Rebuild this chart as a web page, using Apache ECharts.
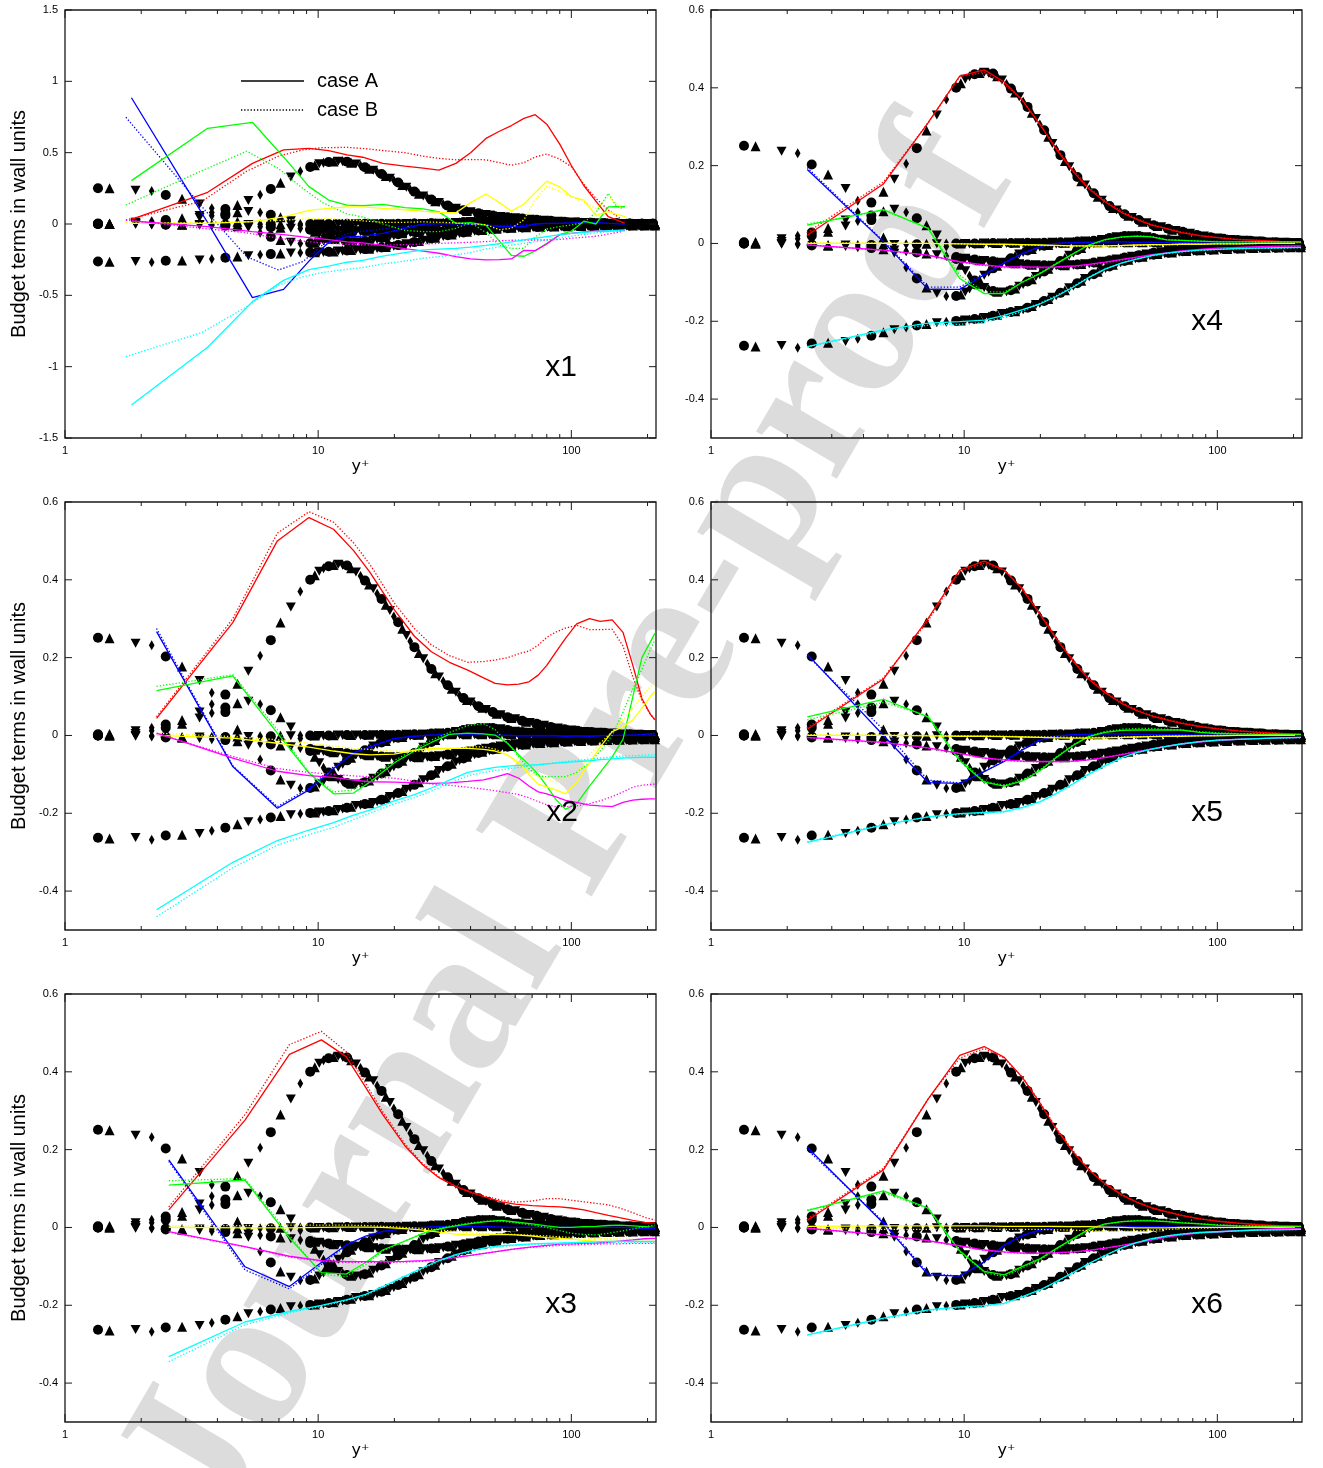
<!DOCTYPE html>
<html><head><meta charset="utf-8">
<script src="https://cdn.jsdelivr.net/npm/echarts@6/dist/echarts.min.js"></script>
<style>html,body{margin:0;padding:0;background:#fff}#c{width:1323px;height:1468px}</style>
</head><body><div id="c"></div><script>
// ---------------- DNS reference data (black symbols, same in every panel) ----------------
const dnsY = [1.35, 1.5, 1.9, 2.2, 2.5, 2.9, 3.4, 3.8, 4.3, 4.8, 5.3, 5.9, 6.5, 7.1, 7.8, 8.5,
  9.3, 9.7, 10.1, 10.5, 11, 11.5, 12, 12.5, 13, 13.5, 14.1, 14.7, 15.3, 15.9, 16.5, 17.1, 17.8, 18.5, 19.2, 19.9,
  20.7, 21.5, 22.3, 23.1, 24, 25, 26, 27, 28, 29, 30, 31.2, 32.5, 33.7, 35, 36.2, 37.5, 38.7, 40, 41.5,
  43, 44.5, 46, 47.5, 49, 50.7, 52.5, 54.2, 56, 58, 60, 62, 64, 66.2, 68.5, 70.7, 73, 75.5, 78, 80.5,
  83, 85.7, 88.5, 91.2, 94, 97, 100, 103, 106, 109.5, 113, 116.5, 120, 123.5, 127, 131, 135, 139, 143, 147,
  151, 155.5, 160, 165, 170, 175, 180, 185, 190, 195, 200, 205, 210, 214];
const dnsProd = [0.003, 0.004, 0.012, 0.02, 0.028, 0.04, 0.06, 0.08, 0.105, 0.133, 0.165, 0.205, 0.245, 0.29, 0.33, 0.37,
  0.4, 0.412, 0.422, 0.43, 0.435, 0.438, 0.44, 0.439, 0.437, 0.43, 0.42, 0.41, 0.398, 0.388, 0.377, 0.364, 0.351, 0.336, 0.321, 0.306,
  0.291, 0.274, 0.257, 0.242, 0.227, 0.212, 0.197, 0.184, 0.171, 0.16, 0.15, 0.139, 0.129, 0.12, 0.111, 0.103, 0.096, 0.091, 0.086, 0.08,
  0.075, 0.071, 0.067, 0.063, 0.06, 0.056, 0.053, 0.05, 0.047, 0.045, 0.043, 0.04, 0.038, 0.035, 0.033, 0.031, 0.03, 0.028, 0.026, 0.024,
  0.022, 0.02, 0.019, 0.017, 0.016, 0.015, 0.014, 0.013, 0.012, 0.011, 0.01, 0.0095, 0.009, 0.0085, 0.008, 0.0075, 0.007, 0.0065, 0.006, 0.0055,
  0.005, 0.0045, 0.004, 0.0035, 0.003, 0.003, 0.003, 0.0025, 0.002, 0.002, 0.002, 0.0015, 0.001, 0.001];
const dnsVisc = [0.251, 0.25, 0.237, 0.232, 0.203, 0.177, 0.141, 0.11, 0.06, 0.015, -0.025, -0.062, -0.09, -0.113, -0.128, -0.136,
  -0.135, -0.131, -0.125, -0.116, -0.105, -0.094, -0.082, -0.073, -0.064, -0.057, -0.05, -0.044, -0.038, -0.032, -0.027, -0.022, -0.018, -0.014, -0.011, -0.008,
  -0.006, -0.004, -0.002, 0.0, 0.001, 0.002, 0.003, 0.004, 0.005, 0.0055, 0.006, 0.0065, 0.007, 0.007, 0.007, 0.007, 0.007, 0.007, 0.007, 0.007,
  0.007, 0.0065, 0.006, 0.006, 0.006, 0.0055, 0.005, 0.005, 0.005, 0.0045, 0.004, 0.004, 0.004, 0.004, 0.004, 0.0035, 0.003, 0.003, 0.003, 0.003,
  0.003, 0.0025, 0.002, 0.002, 0.002, 0.002, 0.002, 0.002, 0.002, 0.0015, 0.001, 0.001, 0.001, 0.001, 0.001, 0.001, 0.001, 0.001, 0.001, 0.001,
  0.001, 0.001, 0.001, 0.0005, 0, 0, 0, 0, 0, 0, 0, 0, 0, 0];
const dnsTurb = [0.0, 0.001, 0.005, 0.012, 0.02, 0.03, 0.045, 0.058, 0.072, 0.083, 0.088, 0.08, 0.065, 0.047, 0.022, -0.008,
  -0.04, -0.055, -0.07, -0.083, -0.095, -0.105, -0.113, -0.118, -0.122, -0.124, -0.125, -0.123, -0.12, -0.116, -0.11, -0.104, -0.098, -0.092, -0.085, -0.079,
  -0.072, -0.065, -0.058, -0.052, -0.045, -0.037, -0.03, -0.023, -0.017, -0.012, -0.007, -0.002, 0.003, 0.007, 0.01, 0.012, 0.014, 0.016, 0.017, 0.018,
  0.019, 0.02, 0.02, 0.02, 0.019, 0.018, 0.017, 0.016, 0.014, 0.012, 0.011, 0.01, 0.009, 0.0085, 0.008, 0.0075, 0.007, 0.0065, 0.006, 0.006,
  0.006, 0.0055, 0.005, 0.005, 0.005, 0.0045, 0.004, 0.004, 0.004, 0.004, 0.004, 0.0035, 0.003, 0.003, 0.003, 0.003, 0.003, 0.003, 0.003, 0.003,
  0.003, 0.0025, 0.002, 0.002, 0.002, 0.002, 0.002, 0.002, 0.002, 0.0015, 0.001, 0.001, 0.001, 0.001];
const dnsDiss = [-0.263, -0.265, -0.262, -0.268, -0.257, -0.255, -0.252, -0.245, -0.237, -0.228, -0.222, -0.216, -0.211, -0.207, -0.204, -0.201,
  -0.199, -0.198, -0.197, -0.196, -0.194, -0.192, -0.19, -0.188, -0.186, -0.183, -0.18, -0.178, -0.176, -0.174, -0.172, -0.169, -0.165, -0.161, -0.157, -0.153,
  -0.148, -0.143, -0.138, -0.133, -0.127, -0.12, -0.114, -0.108, -0.102, -0.096, -0.09, -0.084, -0.079, -0.073, -0.068, -0.063, -0.059, -0.055, -0.052, -0.048,
  -0.045, -0.042, -0.04, -0.038, -0.036, -0.034, -0.032, -0.03, -0.029, -0.027, -0.026, -0.025, -0.024, -0.023, -0.022, -0.021, -0.02, -0.0195, -0.019, -0.0185,
  -0.018, -0.0175, -0.017, -0.0165, -0.016, -0.0155, -0.015, -0.0145, -0.014, -0.014, -0.014, -0.0135, -0.013, -0.013, -0.013, -0.0125, -0.012, -0.012, -0.012, -0.0115,
  -0.011, -0.011, -0.011, -0.011, -0.011, -0.0105, -0.01, -0.01, -0.01, -0.01, -0.01, -0.01, -0.01, -0.01];
const dnsPres = [0.0, 0.0, -0.002, -0.003, -0.005, -0.006, -0.008, -0.01, -0.012, -0.015, -0.017, -0.02, -0.023, -0.026, -0.029, -0.032,
  -0.035, -0.037, -0.038, -0.04, -0.041, -0.043, -0.044, -0.045, -0.046, -0.047, -0.048, -0.049, -0.05, -0.051, -0.052, -0.053, -0.054, -0.055, -0.055, -0.056,
  -0.056, -0.056, -0.056, -0.056, -0.056, -0.056, -0.055, -0.055, -0.054, -0.053, -0.052, -0.051, -0.049, -0.048, -0.046, -0.045, -0.043, -0.042, -0.04, -0.038,
  -0.036, -0.035, -0.033, -0.032, -0.03, -0.028, -0.027, -0.025, -0.024, -0.022, -0.021, -0.02, -0.019, -0.018, -0.017, -0.016, -0.015, -0.014, -0.013, -0.0125,
  -0.012, -0.0115, -0.011, -0.0105, -0.01, -0.0095, -0.009, -0.0085, -0.008, -0.008, -0.008, -0.0075, -0.007, -0.007, -0.007, -0.0065, -0.006, -0.006, -0.006, -0.006,
  -0.006, -0.0055, -0.005, -0.005, -0.005, -0.005, -0.005, -0.0045, -0.004, -0.004, -0.004, -0.004, -0.004, -0.004];
const dnsConv = [0.0, 0.0, 0.0, -0.001, -0.003, -0.004, -0.004, -0.004, -0.004, -0.003, -0.003, -0.002, -0.002, -0.001, -0.001, 0.0,
  0.0, 0.0, 0.0, 0.0, 0.0, 0.0005, 0.001, 0.001, 0.001, 0.001, 0.001, 0.001, 0.001, 0.0015, 0.002, 0.002, 0.002, 0.002, 0.002, 0.002,
  0.002, 0.0025, 0.003, 0.003, 0.003, 0.003, 0.003, 0.003, 0.003, 0.003, 0.003, 0.003, 0.003, 0.003, 0.003, 0.003, 0.003, 0.003, 0.003, 0.003,
  0.003, 0.003, 0.003, 0.003, 0.003, 0.003, 0.003, 0.003, 0.003, 0.003, 0.003, 0.0025, 0.002, 0.002, 0.002, 0.002, 0.002, 0.002, 0.002, 0.002,
  0.002, 0.002, 0.002, 0.002, 0.002, 0.002, 0.002, 0.002, 0.002, 0.002, 0.002, 0.002, 0.002, 0.0015, 0.001, 0.001, 0.001, 0.001, 0.001, 0.001,
  0.001, 0.001, 0.001, 0.001, 0.001, 0.001, 0.001, 0.001, 0.001, 0.001, 0.001, 0.001, 0.001, 0.001];

// ---------------- LES grids (y+) ----------------
const g1A = [1.83, 3.66, 5.5, 7.3, 9.2, 11, 13, 15, 18, 22, 26, 30, 35, 40, 46, 52, 58, 65, 72, 80, 90, 100, 112, 125, 140, 150, 163];
const g1B = [1.74, 3.48, 5.22, 6.96, 8.7, 10.4, 13, 15, 18, 22, 26, 30, 35, 40, 46, 52, 58, 65, 72, 80, 90, 100, 112, 125, 140, 150, 158];
const g2 = [2.3, 4.6, 6.9, 9.2, 11.5, 13.8, 16, 20, 24, 28, 33, 39, 45, 50, 56, 62, 68, 74, 80, 87, 95, 105, 118, 130, 145, 160, 175, 190, 205, 214];
const g3 = [2.57, 5.14, 7.7, 10.3, 12.9, 15.4, 18, 22, 26, 30, 35, 40, 46, 53, 60, 70, 80, 90, 100, 112, 125, 140, 155, 175, 195, 214];
const g4 = [2.4, 4.8, 7.2, 9.6, 12, 14.4, 17, 20, 23, 27, 31, 36, 42, 48, 55, 63, 72, 85, 100, 120, 145, 175, 214];

// ---------------- x1 ----------------
const p1RedA = [0.033, 0.222, 0.425, 0.519, 0.53, 0.514, 0.484, 0.468, 0.425, 0.405, 0.392, 0.378, 0.425, 0.5, 0.6, 0.65, 0.69, 0.74, 0.766, 0.7, 0.56, 0.41, 0.27, 0.16, 0.051, 0.03, 0.005];
const p1RedB = [0.028, 0.16, 0.37, 0.475, 0.52, 0.535, 0.537, 0.53, 0.515, 0.5, 0.475, 0.46, 0.45, 0.452, 0.45, 0.43, 0.412, 0.43, 0.47, 0.49, 0.455, 0.402, 0.28, 0.18, 0.098, 0.06, 0.035];
const p1BlueA = [0.885, 0.01, -0.516, -0.458, -0.26, -0.13, -0.09, -0.085, -0.065, -0.03, 0.0, 0.003, 0.005, -0.003, -0.01, -0.017, -0.019, -0.019, 0.0, 0.005, 0.005, 0.008, 0.012, 0.01, 0.005, 0.002, 0.0];
const p1BlueB = [0.748, 0.12, -0.229, -0.322, -0.264, -0.147, -0.07, -0.05, -0.035, -0.015, -0.005, 0.0, 0.0, -0.004, -0.008, -0.01, -0.008, -0.005, 0.0, 0.003, 0.005, 0.008, 0.01, 0.008, 0.005, 0.004, 0.003];
const p1GreenA = [0.304, 0.671, 0.713, 0.47, 0.262, 0.168, 0.133, 0.128, 0.138, 0.115, 0.106, 0.085, 0.005, 0.01, -0.008, -0.12, -0.22, -0.226, -0.188, -0.135, -0.075, -0.05, 0.02, 0.0, 0.12, 0.121, 0.121];
const p1GreenB = [0.133, 0.374, 0.51, 0.39, 0.25, 0.15, 0.07, 0.05, 0.0, -0.045, -0.053, -0.054, -0.03, 0.01, -0.06, -0.15, -0.171, -0.17, -0.09, -0.035, -0.018, -0.007, 0.01, 0.08, 0.215, 0.13, 0.11];
const p1YelA = [0.005, 0.005, 0.016, 0.05, 0.095, 0.11, 0.12, 0.12, 0.11, 0.1, 0.088, 0.082, 0.079, 0.15, 0.21, 0.15, 0.09, 0.14, 0.22, 0.3, 0.26, 0.192, 0.168, 0.06, 0.086, 0.07, 0.051];
const p1YelB = [0.008, 0.01, 0.015, 0.025, 0.035, 0.04, 0.03, 0.022, 0.012, 0.012, 0.015, 0.012, 0.008, 0.0, -0.005, -0.04, -0.03, 0.03, 0.17, 0.265, 0.23, 0.19, 0.155, 0.11, 0.19, 0.15, 0.12];
const p1MagA = [0.021, -0.019, -0.054, -0.075, -0.095, -0.11, -0.125, -0.133, -0.15, -0.172, -0.19, -0.205, -0.229, -0.245, -0.252, -0.25, -0.245, -0.185, -0.187, -0.14, -0.075, -0.065, -0.055, -0.05, -0.048, -0.047, -0.047];
const p1MagB = [0.028, -0.03, -0.062, -0.1, -0.12, -0.133, -0.142, -0.145, -0.147, -0.145, -0.14, -0.136, -0.132, -0.128, -0.123, -0.118, -0.114, -0.112, -0.112, -0.112, -0.108, -0.1, -0.093, -0.086, -0.07, -0.06, -0.054];
const p1CyanA = [-1.269, -0.864, -0.544, -0.395, -0.32, -0.295, -0.268, -0.255, -0.225, -0.2, -0.182, -0.176, -0.171, -0.162, -0.15, -0.138, -0.126, -0.112, -0.1, -0.088, -0.075, -0.066, -0.058, -0.052, -0.047, -0.044, -0.042];
const p1CyanB = [-0.93, -0.76, -0.58, -0.43, -0.37, -0.34, -0.318, -0.305, -0.28, -0.26, -0.24, -0.228, -0.217, -0.2, -0.175, -0.16, -0.148, -0.136, -0.125, -0.112, -0.098, -0.085, -0.073, -0.062, -0.053, -0.049, -0.047];

// ---------------- x2 ----------------
const p2RedA = [0.044, 0.29, 0.5, 0.56, 0.53, 0.475, 0.42, 0.323, 0.255, 0.215, 0.188, 0.168, 0.148, 0.134, 0.13, 0.132, 0.138, 0.155, 0.18, 0.215, 0.25, 0.287, 0.3, 0.293, 0.297, 0.265, 0.18, 0.095, 0.055, 0.04];
const p2RedB = [0.048, 0.3, 0.52, 0.575, 0.548, 0.495, 0.44, 0.34, 0.275, 0.233, 0.205, 0.188, 0.19, 0.194, 0.2, 0.21, 0.217, 0.232, 0.252, 0.266, 0.276, 0.283, 0.272, 0.272, 0.273, 0.23, 0.15, 0.09, 0.055, 0.04];
const p2BlueA = [0.267, -0.08, -0.187, -0.14, -0.085, -0.045, -0.03, -0.008, -0.002, 0.001, 0.003, 0.004, 0.003, 0.001, 0.0, -0.001, -0.001, -0.001, -0.001, -0.001, -0.002, -0.001, -0.002, -0.001, 0.0, 0.0, 0.001, 0.002, 0.004, 0.005];
const p2BlueB = [0.275, -0.078, -0.183, -0.135, -0.08, -0.043, -0.028, -0.007, -0.001, 0.002, 0.003, 0.004, 0.003, 0.002, 0.001, 0.0, 0.0, 0.0, 0.0, 0.0, -0.001, 0.0, -0.001, 0.0, 0.0, 0.001, 0.001, 0.002, 0.003, 0.004];
const p2GreenA = [0.115, 0.153, 0.006, -0.097, -0.15, -0.148, -0.12, -0.07, -0.04, -0.018, 0.003, 0.006, 0.004, 0.001, -0.02, -0.05, -0.075, -0.1, -0.13, -0.165, -0.19, -0.175, -0.13, -0.095, -0.055, -0.01, 0.1, 0.2, 0.24, 0.263];
const p2GreenB = [0.126, 0.156, 0.015, -0.095, -0.145, -0.14, -0.11, -0.065, -0.035, -0.012, 0.008, 0.025, 0.03, 0.015, -0.02, -0.055, -0.085, -0.104, -0.106, -0.106, -0.106, -0.095, -0.07, -0.04, 0.0, 0.06, 0.12, 0.17, 0.22, 0.246];
const p2YelA = [0.0, -0.007, -0.02, -0.03, -0.04, -0.047, -0.05, -0.048, -0.038, -0.033, -0.033, -0.033, -0.036, -0.04, -0.05, -0.07, -0.1, -0.125, -0.132, -0.14, -0.15, -0.12, -0.07, -0.03, 0.01, 0.022, 0.04, 0.07, 0.1, 0.113];
const p2YelB = [0.006, -0.003, -0.011, -0.02, -0.027, -0.033, -0.036, -0.04, -0.041, -0.038, -0.033, -0.03, -0.029, -0.035, -0.05, -0.075, -0.095, -0.106, -0.112, -0.119, -0.11, -0.1, -0.05, -0.02, 0.01, 0.04, 0.07, 0.1, 0.125, 0.134];
const p2MagA = [0.006, -0.058, -0.092, -0.103, -0.108, -0.115, -0.119, -0.12, -0.122, -0.123, -0.122, -0.118, -0.114, -0.107, -0.098, -0.11, -0.13, -0.145, -0.15, -0.158, -0.167, -0.172, -0.179, -0.181, -0.183, -0.172, -0.166, -0.164, -0.163, -0.163];
const p2MagB = [0.005, -0.054, -0.085, -0.095, -0.1, -0.104, -0.106, -0.11, -0.118, -0.125, -0.128, -0.133, -0.138, -0.142, -0.147, -0.152, -0.16, -0.17, -0.178, -0.183, -0.183, -0.181, -0.175, -0.168, -0.157, -0.145, -0.133, -0.128, -0.126, -0.125];
const p2CyanA = [-0.448, -0.326, -0.27, -0.243, -0.224, -0.205, -0.192, -0.168, -0.152, -0.135, -0.115, -0.095, -0.087, -0.082, -0.079, -0.077, -0.076, -0.075, -0.073, -0.071, -0.069, -0.067, -0.065, -0.062, -0.06, -0.058, -0.057, -0.056, -0.056, -0.056];
const p2CyanB = [-0.466, -0.34, -0.282, -0.255, -0.236, -0.216, -0.2, -0.176, -0.16, -0.143, -0.123, -0.104, -0.095, -0.09, -0.086, -0.082, -0.079, -0.076, -0.073, -0.07, -0.067, -0.064, -0.061, -0.058, -0.055, -0.053, -0.052, -0.051, -0.05, -0.05];

// ---------------- x3 ----------------
const p3RedA = [0.045, 0.276, 0.445, 0.482, 0.439, 0.36, 0.29, 0.21, 0.16, 0.128, 0.105, 0.09, 0.077, 0.066, 0.06, 0.056, 0.054, 0.053, 0.05, 0.045, 0.038, 0.031, 0.025, 0.018, 0.013, 0.011];
const p3RedB = [0.053, 0.29, 0.47, 0.504, 0.452, 0.37, 0.297, 0.215, 0.163, 0.13, 0.107, 0.092, 0.08, 0.07, 0.065, 0.068, 0.074, 0.074, 0.07, 0.066, 0.062, 0.058, 0.05, 0.038, 0.026, 0.019];
const p3BlueA = [0.174, -0.101, -0.152, -0.09, -0.045, -0.022, -0.01, -0.003, 0.0, 0.002, 0.003, 0.003, 0.002, 0.001, 0.0, 0.0, 0.0, 0.0, 0.0, 0.0, 0.0, 0.0, 0.0, -0.001, -0.002, -0.002];
const p3BlueB = [0.17, -0.109, -0.158, -0.095, -0.047, -0.023, -0.011, -0.003, 0.0, 0.002, 0.003, 0.003, 0.002, 0.001, 0.0, 0.0, 0.0, 0.0, 0.0, 0.0, 0.0, 0.0, 0.0, 0.0, -0.001, -0.001];
const p3GreenA = [0.109, 0.122, -0.027, -0.116, -0.12, -0.09, -0.058, -0.035, -0.015, -0.004, 0.004, 0.01, 0.015, 0.018, 0.014, 0.009, 0.004, 0.0, 0.0, 0.002, 0.003, 0.005, 0.006, 0.004, 0.002, 0.0];
const p3GreenB = [0.12, 0.126, -0.02, -0.12, -0.127, -0.095, -0.06, -0.035, -0.014, -0.002, 0.006, 0.012, 0.016, 0.016, 0.012, 0.006, 0.0, -0.008, -0.015, -0.018, -0.019, -0.015, -0.01, -0.004, 0.002, 0.006];
const p3YelA = [0.0, -0.001, -0.001, 0.0, 0.001, 0.001, 0.0, -0.003, -0.007, -0.012, -0.017, -0.019, -0.019, -0.018, -0.019, -0.022, -0.026, -0.028, -0.03, -0.033, -0.035, -0.036, -0.036, -0.036, -0.036, -0.036];
const p3YelB = [0.004, 0.005, 0.006, 0.006, 0.006, 0.005, 0.003, 0.0, -0.003, -0.006, -0.01, -0.014, -0.016, -0.017, -0.018, -0.02, -0.022, -0.024, -0.026, -0.027, -0.028, -0.029, -0.03, -0.031, -0.032, -0.032];
const p3MagA = [-0.011, -0.049, -0.074, -0.085, -0.088, -0.088, -0.088, -0.087, -0.085, -0.082, -0.077, -0.072, -0.066, -0.06, -0.055, -0.05, -0.046, -0.043, -0.042, -0.041, -0.04, -0.038, -0.035, -0.032, -0.029, -0.028];
const p3MagB = [-0.012, -0.05, -0.076, -0.087, -0.09, -0.09, -0.09, -0.089, -0.087, -0.083, -0.078, -0.072, -0.066, -0.06, -0.055, -0.051, -0.048, -0.046, -0.045, -0.044, -0.043, -0.042, -0.042, -0.041, -0.041, -0.041];
const p3CyanA = [-0.332, -0.243, -0.216, -0.2, -0.186, -0.172, -0.152, -0.125, -0.103, -0.085, -0.07, -0.06, -0.052, -0.047, -0.045, -0.042, -0.041, -0.04, -0.039, -0.038, -0.037, -0.036, -0.036, -0.036, -0.036, -0.036];
const p3CyanB = [-0.345, -0.25, -0.22, -0.202, -0.188, -0.174, -0.154, -0.127, -0.105, -0.087, -0.072, -0.062, -0.054, -0.049, -0.046, -0.044, -0.043, -0.042, -0.041, -0.04, -0.04, -0.039, -0.039, -0.039, -0.039, -0.039];

// ---------------- x4 ----------------
const p4RedA = [0.021, 0.153, 0.31, 0.43, 0.446, 0.415, 0.368, 0.304, 0.244, 0.184, 0.141, 0.107, 0.079, 0.062, 0.047, 0.038, 0.028, 0.02, 0.015, 0.01, 0.008, 0.005, 0.003];
const p4RedB = [0.028, 0.158, 0.31, 0.428, 0.44, 0.41, 0.367, 0.305, 0.247, 0.188, 0.145, 0.11, 0.082, 0.064, 0.049, 0.039, 0.03, 0.021, 0.016, 0.011, 0.008, 0.005, 0.003];
const p4BlueA = [0.19, 0.004, -0.118, -0.118, -0.081, -0.05, -0.026, -0.008, 0.0, 0.002, 0.003, 0.004, 0.004, 0.003, 0.003, 0.002, 0.002, 0.001, 0.001, 0.0, 0.0, 0.0, 0.0];
const p4BlueB = [0.195, 0.006, -0.112, -0.112, -0.078, -0.048, -0.025, -0.007, 0.0, 0.003, 0.004, 0.004, 0.004, 0.003, 0.003, 0.002, 0.002, 0.001, 0.001, 0.0, 0.0, 0.0, 0.0];
const p4GreenA = [0.047, 0.087, 0.039, -0.09, -0.129, -0.129, -0.099, -0.077, -0.053, -0.026, -0.004, 0.01, 0.017, 0.019, 0.017, 0.009, 0.008, 0.006, 0.004, 0.004, 0.004, 0.004, 0.004];
const p4GreenB = [0.05, 0.085, 0.04, -0.082, -0.124, -0.125, -0.1, -0.075, -0.052, -0.026, -0.005, 0.009, 0.016, 0.019, 0.018, 0.01, 0.008, 0.006, 0.005, 0.004, 0.004, 0.004, 0.004];
const p4YelA = [0.0, 0.0, 0.0, -0.001, -0.002, -0.002, -0.003, -0.004, -0.005, -0.006, -0.006, -0.006, -0.005, -0.004, -0.003, -0.003, -0.002, -0.002, -0.001, -0.001, 0.0, 0.0, 0.0];
const p4YelB = [0.002, 0.001, 0.0, -0.001, -0.002, -0.003, -0.004, -0.005, -0.006, -0.007, -0.007, -0.007, -0.006, -0.005, -0.004, -0.003, -0.002, -0.002, -0.001, -0.001, 0.0, 0.0, 0.0];
const p4MagA = [-0.004, -0.017, -0.03, -0.047, -0.055, -0.06, -0.06, -0.061, -0.06, -0.058, -0.054, -0.048, -0.041, -0.035, -0.029, -0.024, -0.019, -0.015, -0.012, -0.01, -0.008, -0.007, -0.006];
const p4MagB = [-0.003, -0.018, -0.031, -0.048, -0.057, -0.062, -0.063, -0.063, -0.062, -0.06, -0.056, -0.05, -0.043, -0.037, -0.031, -0.025, -0.02, -0.016, -0.013, -0.011, -0.009, -0.008, -0.007];
const p4CyanA = [-0.265, -0.222, -0.205, -0.201, -0.197, -0.185, -0.17, -0.155, -0.137, -0.112, -0.088, -0.066, -0.05, -0.04, -0.031, -0.025, -0.021, -0.017, -0.015, -0.013, -0.012, -0.011, -0.01];
const p4CyanB = [-0.266, -0.225, -0.21, -0.208, -0.203, -0.19, -0.174, -0.153, -0.135, -0.11, -0.087, -0.066, -0.05, -0.04, -0.032, -0.026, -0.022, -0.018, -0.016, -0.014, -0.013, -0.012, -0.011];

// ---------------- x5 ----------------
const p5RedA = [0.016, 0.145, 0.3, 0.425, 0.448, 0.425, 0.375, 0.31, 0.25, 0.19, 0.145, 0.11, 0.082, 0.064, 0.05, 0.04, 0.031, 0.023, 0.017, 0.012, 0.008, 0.005, 0.002];
const p5RedB = [0.02, 0.148, 0.295, 0.42, 0.443, 0.425, 0.378, 0.314, 0.254, 0.194, 0.149, 0.113, 0.085, 0.066, 0.052, 0.042, 0.033, 0.024, 0.018, 0.013, 0.009, 0.006, 0.003];
const p5BlueA = [0.209, 0.0, -0.121, -0.123, -0.093, -0.067, -0.037, -0.012, -0.002, 0.002, 0.003, 0.004, 0.004, 0.003, 0.003, 0.002, 0.002, 0.001, 0.001, 0.0, 0.0, 0.0, 0.0];
const p5BlueB = [0.205, 0.015, -0.115, -0.122, -0.093, -0.064, -0.035, -0.011, -0.001, 0.003, 0.004, 0.004, 0.004, 0.003, 0.003, 0.002, 0.002, 0.001, 0.001, 0.0, 0.0, 0.0, 0.0];
const p5GreenA = [0.048, 0.093, 0.048, -0.065, -0.12, -0.13, -0.117, -0.09, -0.058, -0.025, -0.003, 0.008, 0.013, 0.014, 0.014, 0.014, 0.014, 0.008, 0.005, 0.004, 0.003, 0.003, 0.003];
const p5GreenB = [0.04, 0.085, 0.05, -0.06, -0.118, -0.128, -0.115, -0.088, -0.056, -0.024, -0.002, 0.01, 0.016, 0.018, 0.018, 0.016, 0.014, 0.01, 0.007, 0.005, 0.004, 0.003, 0.003];
const p5YelA = [0.0, 0.0, -0.001, -0.002, -0.002, -0.003, -0.004, -0.005, -0.006, -0.007, -0.007, -0.006, -0.005, -0.004, -0.003, -0.002, -0.002, -0.001, -0.001, 0.0, 0.0, 0.0, 0.0];
const p5YelB = [0.002, 0.001, 0.0, -0.001, -0.002, -0.002, -0.003, -0.004, -0.004, -0.005, -0.005, -0.005, -0.004, -0.003, -0.002, -0.002, -0.001, -0.001, 0.0, 0.0, 0.0, 0.0, 0.0];
const p5MagA = [-0.005, -0.018, -0.032, -0.046, -0.058, -0.063, -0.066, -0.067, -0.067, -0.066, -0.063, -0.057, -0.049, -0.042, -0.035, -0.028, -0.022, -0.017, -0.013, -0.01, -0.008, -0.006, -0.005];
const p5MagB = [-0.006, -0.019, -0.033, -0.047, -0.059, -0.064, -0.067, -0.068, -0.068, -0.066, -0.062, -0.056, -0.048, -0.041, -0.034, -0.027, -0.021, -0.016, -0.013, -0.01, -0.008, -0.006, -0.005];
const p5CyanA = [-0.275, -0.23, -0.209, -0.201, -0.198, -0.196, -0.185, -0.17, -0.15, -0.124, -0.1, -0.078, -0.057, -0.044, -0.035, -0.028, -0.022, -0.016, -0.012, -0.01, -0.008, -0.006, -0.005];
const p5CyanB = [-0.273, -0.228, -0.21, -0.203, -0.2, -0.197, -0.186, -0.17, -0.149, -0.123, -0.099, -0.077, -0.057, -0.044, -0.035, -0.028, -0.022, -0.016, -0.012, -0.01, -0.008, -0.007, -0.006];

// ---------------- x6 ----------------
const p6RedA = [0.018, 0.148, 0.33, 0.442, 0.465, 0.437, 0.385, 0.318, 0.255, 0.193, 0.148, 0.112, 0.083, 0.065, 0.05, 0.04, 0.031, 0.022, 0.016, 0.011, 0.007, 0.004, 0.002];
const p6RedB = [0.022, 0.152, 0.33, 0.435, 0.46, 0.435, 0.386, 0.32, 0.258, 0.196, 0.15, 0.114, 0.085, 0.066, 0.051, 0.041, 0.032, 0.023, 0.017, 0.012, 0.008, 0.005, 0.003];
const p6BlueA = [0.206, 0.011, -0.122, -0.125, -0.088, -0.045, -0.02, -0.006, 0.0, 0.002, 0.003, 0.003, 0.003, 0.002, 0.002, 0.002, 0.001, 0.001, 0.0, 0.0, 0.0, 0.0, 0.0];
const p6BlueB = [0.2, 0.015, -0.118, -0.125, -0.09, -0.048, -0.022, -0.007, 0.0, 0.003, 0.004, 0.004, 0.003, 0.003, 0.002, 0.002, 0.001, 0.001, 0.001, 0.0, 0.0, 0.0, 0.0];
const p6GreenA = [0.043, 0.094, 0.05, -0.06, -0.113, -0.122, -0.1, -0.08, -0.055, -0.028, -0.005, 0.009, 0.015, 0.017, 0.017, 0.015, 0.012, 0.009, 0.006, 0.004, 0.003, 0.003, 0.003];
const p6GreenB = [0.045, 0.09, 0.048, -0.062, -0.116, -0.126, -0.104, -0.083, -0.057, -0.03, -0.007, 0.008, 0.015, 0.018, 0.018, 0.016, 0.013, 0.01, 0.007, 0.005, 0.004, 0.003, 0.003];
const p6YelA = [0.003, 0.004, 0.004, 0.004, 0.004, 0.003, 0.003, 0.003, 0.003, 0.002, 0.002, 0.001, 0.0, -0.001, -0.001, -0.001, 0.0, 0.0, 0.0, 0.0, 0.0, 0.0, 0.0];
const p6YelB = [-0.002, -0.005, -0.005, -0.005, -0.005, -0.005, -0.005, -0.005, -0.006, -0.007, -0.008, -0.009, -0.01, -0.009, -0.007, -0.005, -0.003, -0.002, -0.001, 0.0, 0.0, 0.0, 0.0];
const p6MagA = [-0.002, -0.019, -0.034, -0.047, -0.058, -0.063, -0.066, -0.066, -0.065, -0.063, -0.059, -0.053, -0.046, -0.039, -0.032, -0.025, -0.019, -0.014, -0.011, -0.008, -0.005, -0.003, -0.002];
const p6MagB = [-0.003, -0.02, -0.035, -0.048, -0.059, -0.064, -0.067, -0.067, -0.066, -0.064, -0.06, -0.054, -0.047, -0.04, -0.033, -0.026, -0.02, -0.015, -0.012, -0.009, -0.006, -0.004, -0.003];
const p6CyanA = [-0.276, -0.233, -0.212, -0.204, -0.201, -0.195, -0.178, -0.16, -0.14, -0.115, -0.093, -0.072, -0.052, -0.039, -0.029, -0.022, -0.017, -0.013, -0.011, -0.009, -0.007, -0.006, -0.005];
const p6CyanB = [-0.277, -0.235, -0.214, -0.206, -0.203, -0.196, -0.179, -0.161, -0.141, -0.116, -0.094, -0.072, -0.052, -0.039, -0.029, -0.022, -0.017, -0.013, -0.011, -0.009, -0.007, -0.006, -0.005];

// ---------------- ticks & texts ----------------
const xMajorTicks = [1, 10, 100];
const xMinorTicks = [2, 3, 4, 5, 6, 7, 8, 9, 20, 30, 40, 50, 60, 70, 80, 90, 200];
const yTicks1 = [-1.5, -1, -0.5, 0, 0.5, 1, 1.5];
const yTicks2 = [-0.4, -0.2, 0, 0.2, 0.4, 0.6];
const panelNames = ['x1', 'x2', 'x3', 'x4', 'x5', 'x6'];
const caseNames = ['case A', 'case B'];

// ---------------- build ----------------
const XMAX = 216;
const FONT = 'Liberation Sans';
const COLORS = {red: '#ff0000', blue: '#0000ff', green: '#00ff00', yellow: '#ffff00', magenta: '#ff00ff', cyan: '#00ffff'};
const layout = [
  {left: 65, top: 10, yName: true, lab: [561, 368]},
  {left: 65, top: 502, yName: true, lab: [562, 813]},
  {left: 65, top: 994, yName: true, lab: [561, 1305]},
  {left: 711, top: 10, yName: false, lab: [1207, 322]},
  {left: 711, top: 502, yName: false, lab: [1207, 813]},
  {left: 711, top: 994, yName: false, lab: [1207, 1305]}
];
const panelData = [
  {gA: g1A, gB: g1B, red: [p1RedA, p1RedB], blue: [p1BlueA, p1BlueB], green: [p1GreenA, p1GreenB], yellow: [p1YelA, p1YelB], magenta: [p1MagA, p1MagB], cyan: [p1CyanA, p1CyanB]},
  {gA: g2, gB: g2, red: [p2RedA, p2RedB], blue: [p2BlueA, p2BlueB], green: [p2GreenA, p2GreenB], yellow: [p2YelA, p2YelB], magenta: [p2MagA, p2MagB], cyan: [p2CyanA, p2CyanB]},
  {gA: g3, gB: g3, red: [p3RedA, p3RedB], blue: [p3BlueA, p3BlueB], green: [p3GreenA, p3GreenB], yellow: [p3YelA, p3YelB], magenta: [p3MagA, p3MagB], cyan: [p3CyanA, p3CyanB]},
  {gA: g4, gB: g4, red: [p4RedA, p4RedB], blue: [p4BlueA, p4BlueB], green: [p4GreenA, p4GreenB], yellow: [p4YelA, p4YelB], magenta: [p4MagA, p4MagB], cyan: [p4CyanA, p4CyanB]},
  {gA: g4, gB: g4, red: [p5RedA, p5RedB], blue: [p5BlueA, p5BlueB], green: [p5GreenA, p5GreenB], yellow: [p5YelA, p5YelB], magenta: [p5MagA, p5MagB], cyan: [p5CyanA, p5CyanB]},
  {gA: g4, gB: g4, red: [p6RedA, p6RedB], blue: [p6BlueA, p6BlueB], green: [p6GreenA, p6GreenB], yellow: [p6YelA, p6YelB], magenta: [p6MagA, p6MagB], cyan: [p6CyanA, p6CyanB]}
];
const dnsTerms = [dnsProd, dnsVisc, dnsTurb, dnsDiss, dnsPres, dnsConv];

function zip(xs, ys) { const n = Math.min(xs.length, ys.length); const o = []; for (let i = 0; i < n; i++) o.push([xs[i], ys[i]]); return o; }
const SYMS = ['circle', 'triangle', 'path://M0,0L10,0L5,9Z', 'path://M4,0L8,7L4,14L0,7Z'];
const DOT = [1.3, 1.9];

const grids = [], xAxes = [], yAxes = [], series = [], graphics = [];
layout.forEach((L, i) => {
  const first = i === 0;
  const yMin = first ? -1.5 : -0.5, yMax = first ? 1.5 : 0.6;
  grids.push({left: L.left, top: L.top, width: 591, height: 428, show: true, borderColor: '#1a1a1a', borderWidth: 1.3, backgroundColor: 'transparent'});
  xAxes.push({
    type: 'log', logBase: 10, gridIndex: i, min: 1, max: XMAX,
    axisLine: {show: false}, axisTick: {show: false}, splitLine: {show: false},
    axisLabel: {
      fontSize: 11, color: '#000', fontFamily: FONT, margin: 7, showMinLabel: true, showMaxLabel: false,
      formatter: v => { const r = Math.round(v); return ([1, 10, 100].indexOf(r) >= 0 && Math.abs(v - r) < 1e-6) ? String(r) : ''; }
    },
    name: 'y\u207A', nameLocation: 'middle', nameGap: 21,
    nameTextStyle: {fontSize: 16, color: '#000', fontFamily: 'DejaVu Sans'}
  });
  yAxes.push({
    type: 'value', gridIndex: i, min: yMin, max: yMax, interval: first ? 0.5 : 0.1,
    axisLine: {show: false}, axisTick: {show: false}, splitLine: {show: false},
    axisLabel: {
      fontSize: 11, color: '#000', fontFamily: FONT, margin: 7, showMinLabel: true, showMaxLabel: true,
      formatter: first ? (v => String(Math.round(v * 10) / 10))
                       : (v => { const t = Math.round(v * 10); return (t % 2 === 0) ? String(t / 10) : ''; })
    },
    name: L.yName ? 'Budget terms in wall units' : '', nameLocation: 'middle', nameGap: 36, nameRotate: 90,
    nameTextStyle: {fontSize: 20, color: '#000', fontFamily: FONT}
  });
  // ticks (custom, positioned through the axes' scales)
  const xt = xMajorTicks.map(v => [v, yMin, 1]).concat(xMinorTicks.map(v => [v, yMin, 0]));
  series.push({
    type: 'custom', xAxisIndex: i, yAxisIndex: i, silent: true, z: 6, data: xt, encode: {x: 0, y: 1},
    renderItem: (params, api) => {
      const v = api.value(0), maj = api.value(2);
      const pb = api.coord([v, yMin]), pt = api.coord([v, yMax]);
      const len = maj ? 8 : 4;
      const st = {stroke: '#1a1a1a', lineWidth: 1};
      return {type: 'group', children: [
        {type: 'line', shape: {x1: pb[0], y1: pb[1], x2: pb[0], y2: pb[1] - len}, style: st},
        {type: 'line', shape: {x1: pt[0], y1: pt[1], x2: pt[0], y2: pt[1] + len}, style: st}
      ]};
    }
  });
  const yt = (first ? yTicks1 : yTicks2).map(v => [1, v]);
  series.push({
    type: 'custom', xAxisIndex: i, yAxisIndex: i, silent: true, z: 6, data: yt, encode: {x: 0, y: 1},
    renderItem: (params, api) => {
      const v = api.value(1);
      const pl = api.coord([1, v]), pr = api.coord([XMAX, v]);
      const st = {stroke: '#1a1a1a', lineWidth: 1};
      return {type: 'group', children: [
        {type: 'line', shape: {x1: pl[0], y1: pl[1], x2: pl[0] + 7, y2: pl[1]}, style: st},
        {type: 'line', shape: {x1: pr[0], y1: pr[1], x2: pr[0] - 7, y2: pr[1]}, style: st}
      ]};
    }
  });
  // DNS symbols
  dnsTerms.forEach(term => {
    series.push({
      type: 'scatter', xAxisIndex: i, yAxisIndex: i, silent: true, z: 2,
      data: zip(dnsY, term),
      symbol: (val, p) => SYMS[p.dataIndex % 4], symbolKeepAspect: true, symbolSize: 10,
      itemStyle: {color: '#000', opacity: 1}
    });
  });
  // LES lines
  const P = panelData[i];
  ['red', 'blue', 'green', 'yellow', 'magenta', 'cyan'].forEach(c => {
    series.push({type: 'line', xAxisIndex: i, yAxisIndex: i, silent: true, z: 3, symbol: 'none', showSymbol: false,
      data: zip(P.gA, P[c][0]), lineStyle: {color: COLORS[c], width: 1.3, type: 'solid'}});
    series.push({type: 'line', xAxisIndex: i, yAxisIndex: i, silent: true, z: 3, symbol: 'none', showSymbol: false,
      data: zip(P.gB, P[c][1]), lineStyle: {color: COLORS[c], width: 1.3, type: DOT}});
  });
  graphics.push({type: 'text', x: L.lab[0], y: L.lab[1], z: 50,
    style: {text: panelNames[i], font: '30px "Liberation Sans"', fill: '#000', textAlign: 'center', textVerticalAlign: 'middle', align: 'center', verticalAlign: 'middle'}});
});
// key (case A solid, case B dotted)
graphics.push({type: 'line', z: 50, shape: {x1: 241, y1: 81, x2: 304, y2: 81}, style: {stroke: '#000', lineWidth: 1.3}});
graphics.push({type: 'line', z: 50, shape: {x1: 241, y1: 110, x2: 304, y2: 110}, style: {stroke: '#000', lineWidth: 1.3, lineDash: DOT}});
graphics.push({type: 'text', z: 50, x: 317, y: 81, style: {text: caseNames[0], font: '20px "Liberation Sans"', fill: '#000', textAlign: 'left', textVerticalAlign: 'middle', align: 'left', verticalAlign: 'middle'}});
graphics.push({type: 'text', z: 50, x: 317, y: 110, style: {text: caseNames[1], font: '20px "Liberation Sans"', fill: '#000', textAlign: 'left', textVerticalAlign: 'middle', align: 'left', verticalAlign: 'middle'}});
// watermark
graphics.unshift({type: 'text', x: 572, y: 826, z: -10, rotation: 59.6 * Math.PI / 180,
  style: {text: 'Journal Pre-proof', font: 'bold 204px "Liberation Serif"', fill: '#dcdcdc', textAlign: 'center', textVerticalAlign: 'middle', align: 'center', verticalAlign: 'middle'}});

const chart = echarts.init(document.getElementById('c'), null, {renderer: 'canvas'});
chart.setOption({
  animation: false,
  backgroundColor: '#fff',
  grid: grids, xAxis: xAxes, yAxis: yAxes, series: series,
  graphic: graphics
});
</script></body></html>
